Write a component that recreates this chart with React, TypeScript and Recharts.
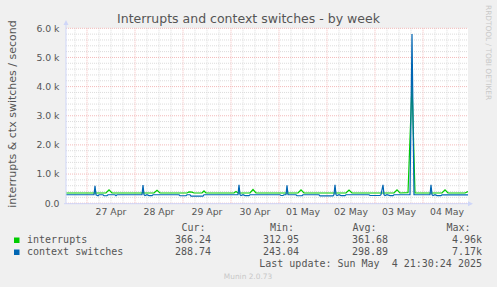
import { CartesianGrid, Line, LineChart, XAxis, YAxis } from "recharts";

// Time is in hours after 26 Apr 00:00; the week view spans 26 Apr 13:30 to 04 May 22:30.
const HOUR_START = 13.5;
const HOUR_END = 214.5;

// [hour, interrupts per second]
const INTERRUPTS: [number, number][] = [
  [13.5, 350], [33.5, 350], [35, 460], [36.5, 350],
  [51.5, 350], [52, 370], [52.5, 350],
  [57.5, 350], [59, 440], [60.5, 350],
  [74, 350], [75, 385], [76.5, 380], [77.5, 350],
  [81.5, 350], [82.5, 420], [83.5, 350],
  [97.5, 350], [98.5, 400], [99.5, 350],
  [105.5, 350], [107, 470], [108.5, 350],
  [129.5, 350], [131, 460], [132.5, 350],
  [153.5, 350], [155, 450], [156.5, 350],
  [177.5, 350], [179, 460], [180.5, 350],
  [184.5, 360], [186.5, 4100], [188, 350],
  [201.5, 350], [203, 460], [204.5, 350],
  [213, 350], [214.5, 400],
];

// [hour, context switches per second]
const CONTEXT_SWITCHES: [number, number][] = [
  [13.5, 290], [27.5, 290], [28, 600], [28.5, 290], [29.5, 255], [30, 290],
  [32, 290], [32.5, 255], [34, 255], [34.5, 290], [38, 290], [38.5, 260], [39, 290],
  [51.5, 290], [52, 620], [52.5, 290], [53, 260], [54, 290], [55, 260], [56.5, 260], [57, 290],
  [70, 290], [70.5, 255], [73.5, 255], [74, 290], [75.5, 290], [76, 245], [82, 245], [82.5, 290],
  [99.5, 290], [100, 630], [100.5, 290], [101, 260], [102, 290], [103, 260], [105, 260], [105.5, 290],
  [120.5, 290], [121, 265], [122, 265], [122.5, 290],
  [123.5, 290], [124, 610], [124.5, 290], [128.5, 290], [129, 255], [131.5, 255], [132, 290],
  [140, 290], [140.5, 250], [147, 250], [147.5, 290],
  [148, 630], [148.5, 290], [149, 260], [150, 290], [151, 260], [153, 260], [153.5, 290],
  [165, 290], [165.5, 265], [170.5, 265], [171, 290],
  [172, 630], [172.5, 290], [173, 260], [174, 290], [175.5, 260], [177, 260], [177.5, 290],
  [185.5, 290], [186.5, 5800], [187.5, 290],
  [195.5, 290], [196, 630], [196.5, 290], [197, 260], [198, 290], [199, 260], [201, 260], [201.5, 290],
  [214.5, 289],
];

// day labels sit at noon, major grid at midnight
const DAY_TICKS = [36, 60, 84, 108, 132, 156, 180, 204];
const DAY_LABELS = ["27 Apr", "28 Apr", "29 Apr", "30 Apr", "01 May", "02 May", "03 May", "04 May"];
const MIDNIGHTS = [24, 48, 72, 96, 120, 144, 168, 192];
const SIX_HOURS = Array.from({ length: 34 }, (_, i) => 18 + i * 6).filter((h) => h % 24 !== 0);

const Y_TICKS = [0, 1000, 2000, 3000, 4000, 5000, 6000];
const Y_LABELS = ["0.0", "1.0 k", "2.0 k", "3.0 k", "4.0 k", "5.0 k", "6.0 k"];
const Y_MINOR = Array.from({ length: 31 }, (_, i) => i * 200).filter((v) => v % 1000 !== 0);

const STAT_HEADERS = ["Cur:", "Min:", "Avg:", "Max:"];
const INTERRUPT_STATS = ["366.24", "312.95", "361.68", "4.96k"];
const CONTEXT_STATS = ["288.74", "243.04", "298.89", "7.17k"];
const LAST_UPDATE = "Last update: Sun May  4 21:30:24 2025";

const W = 497;
const H = 287;
const PLOT = { left: 66, right: 468, top: 28.3, bottom: 203.2 };
const AXIS_COLOR = "#cfd6f8";
const TEXT = "#555";
const MONO = "'DejaVu Sans Mono', monospace";

const toRows = (pts: [number, number][]) => pts.map(([t, v]) => ({ t, v }));

export default function App() {
  const interrupts = toRows(INTERRUPTS);
  const ctx = toRows(CONTEXT_SWITCHES);
  const headerX = [181.5, 270, 352.5, 446.5];
  const valueX = [211, 299, 388, 482];

  return (
    <div
      style={{
        position: "fixed",
        left: 0,
        top: 0,
        width: W,
        height: H,
        background: "#f0f0f0",
        fontFamily: "'DejaVu Sans', sans-serif",
      }}
    >
      <LineChart
        width={W}
        height={H}
        margin={{ top: PLOT.top, right: W - PLOT.right, bottom: H - PLOT.bottom - 20, left: 6 }}
        style={{ position: "absolute", left: 0, top: 0 }}
      >
        <CartesianGrid
          fill="#ffffff"
          stroke="#dcdcdc"
          strokeDasharray="1 1"
          horizontalValues={Y_MINOR}
          verticalValues={SIX_HOURS}
        />
        <CartesianGrid
          stroke="#f3baba"
          strokeDasharray="1 1"
          horizontalValues={Y_TICKS}
          verticalValues={MIDNIGHTS}
        />
        <XAxis
          type="number"
          dataKey="t"
          domain={[HOUR_START, HOUR_END]}
          ticks={DAY_TICKS}
          tickFormatter={(v: number) => DAY_LABELS[DAY_TICKS.indexOf(v)] ?? ""}
          allowDataOverflow
          axisLine={false}
          tickLine={false}
          tickSize={0}
          tickMargin={5}
          height={20}
          interval={0}
          tick={{ fontSize: 9.3, fill: TEXT, fontFamily: "'DejaVu Sans'" }}
        />
        <YAxis
          type="number"
          domain={[0, 6000]}
          ticks={Y_TICKS}
          tickFormatter={(v: number) => Y_LABELS[Y_TICKS.indexOf(v)] ?? ""}
          allowDataOverflow
          axisLine={false}
          tickLine={false}
          tickSize={0}
          tickMargin={6.5}
          width={60}
          interval={0}
          tick={{ fontSize: 9.3, fill: TEXT, fontFamily: "'DejaVu Sans'" }}
        />
        <Line
          data={interrupts}
          dataKey="v"
          type="linear"
          stroke="#00cc00"
          strokeWidth={1.2}
          dot={false}
          isAnimationActive={false}
        />
        <Line
          data={ctx}
          dataKey="v"
          type="linear"
          stroke="#0066b3"
          strokeWidth={1.2}
          dot={false}
          isAnimationActive={false}
        />
      </LineChart>

      <svg
        width={W}
        height={H}
        style={{ position: "absolute", left: 0, top: 0, pointerEvents: "none" }}
      >
        {/* axes with rrdtool-style arrow heads */}
        <line x1={PLOT.left} y1={PLOT.bottom + 0.5} x2={PLOT.left} y2={23} stroke={AXIS_COLOR} />
        <path d={`M${PLOT.left - 2.5},25 L${PLOT.left + 2.5},25 L${PLOT.left},20 Z`} fill={AXIS_COLOR} />
        <line x1={PLOT.left - 2} y1={PLOT.bottom + 0.5} x2={PLOT.right + 2} y2={PLOT.bottom + 0.5} stroke={AXIS_COLOR} />
        <path
          d={`M${PLOT.right},${PLOT.bottom - 2} L${PLOT.right},${PLOT.bottom + 3} L${PLOT.right + 5},${PLOT.bottom + 0.5} Z`}
          fill={AXIS_COLOR}
        />

        <text x={248.5} y={23} textAnchor="middle" fontSize={12.5} fill={TEXT}>
          Interrupts and context switches - by week
        </text>
        <text
          transform="translate(15.5,114) rotate(-90)"
          textAnchor="middle"
          fontSize={11}
          fill={TEXT}
        >
          interrupts &amp; ctx switches / second
        </text>
        <text transform="translate(485.5,5) rotate(90)" fontSize={7.4} fill="#c8c8c8">
          RRDTOOL / TOBI OETIKER
        </text>

        {/* legend */}
        {STAT_HEADERS.map((h, i) => (
          <text key={h} x={headerX[i]} y={231} fontSize={10} fontFamily={MONO} fill={TEXT}>
            {h}
          </text>
        ))}
        <rect x={14} y={237.5} width={5.5} height={5.5} fill="#00cc00" />
        <text x={27} y={243} fontSize={10} fontFamily={MONO} fill={TEXT}>
          interrupts
        </text>
        {INTERRUPT_STATS.map((s, i) => (
          <text key={i} x={valueX[i]} y={243} textAnchor="end" fontSize={10} fontFamily={MONO} fill={TEXT}>
            {s}
          </text>
        ))}
        <rect x={14} y={249.5} width={5.5} height={5.5} fill="#0066b3" />
        <text x={27} y={255} fontSize={10} fontFamily={MONO} fill={TEXT}>
          context switches
        </text>
        {CONTEXT_STATS.map((s, i) => (
          <text key={i} x={valueX[i]} y={255} textAnchor="end" fontSize={10} fontFamily={MONO} fill={TEXT}>
            {s}
          </text>
        ))}
        <text x={482} y={267} textAnchor="end" fontSize={10} fontFamily={MONO} fill={TEXT} style={{ whiteSpace: "pre" }}>
          {LAST_UPDATE}
        </text>
        <text x={248} y={279} textAnchor="middle" fontSize={7.4} fill="#c8c8c8">
          Munin 2.0.73
        </text>
      </svg>
    </div>
  );
}
